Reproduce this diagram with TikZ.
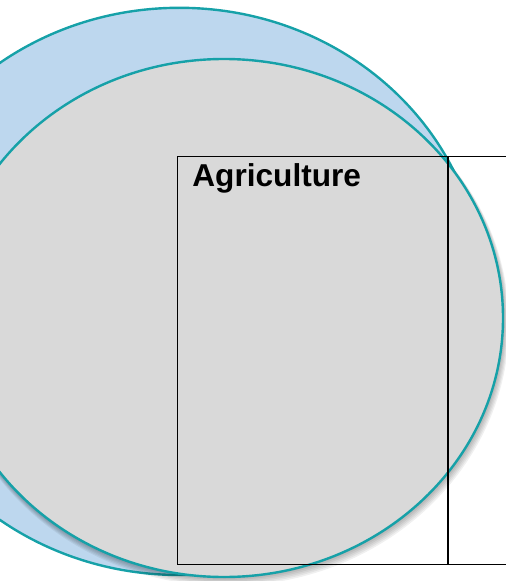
\documentclass[tikz,border=0pt]{standalone}
\usepackage{fontspec}
\newfontfamily\cellfont{Liberation Sans}
\usetikzlibrary{positioning}
\definecolor{ringteal}{RGB}{22,161,168}
\definecolor{backblue}{RGB}{189,215,238}
\definecolor{frontgrey}{RGB}{217,217,217}

\begin{document}
\begin{tikzpicture}
	[
		x = 0.02cm, y = -0.02cm,
		ring/.style = {draw=ringteal, line width=0.048cm},
		cell/.style = {shape=rectangle, draw=black, line width=0.02cm, minimum height=8.17cm, anchor=north west, inner sep=0},
		celltext/.style = {font=\cellfont\bfseries\fontsize{18}{20}\selectfont, inner sep=0}
	]

	\useasboundingbox (0,0) rectangle (506,581);
	\clip (0,0) rectangle (506,581);

	% back ellipse
	\def\x{179.4}
	\def\y{291.4}
	\filldraw [ring, fill=backblue] (\x, \y) ellipse (303 and 283.6);

	% front ellipse with soft shadow
	\def\x{224}
	\def\y{318}
	\foreach \s in {1,...,6}
		\fill [black, opacity=0.06] ({\x + 0.5*\s}, {\y + \s}) ellipse ({279 + 0.5*\s} and {259 + 0.5*\s});
	\filldraw [ring, fill=frontgrey] (\x, \y) ellipse (279 and 259);

	\node [cell, minimum width=5.4cm] (agri) at (177, 155.5) {};
	\node [cell, minimum width=2cm] (next) at (agri.north east) {};
	\node [celltext, below right=0.15cm and 0.3cm of agri.north west] (agritext) {Agriculture};
\end{tikzpicture}
\end{document}
